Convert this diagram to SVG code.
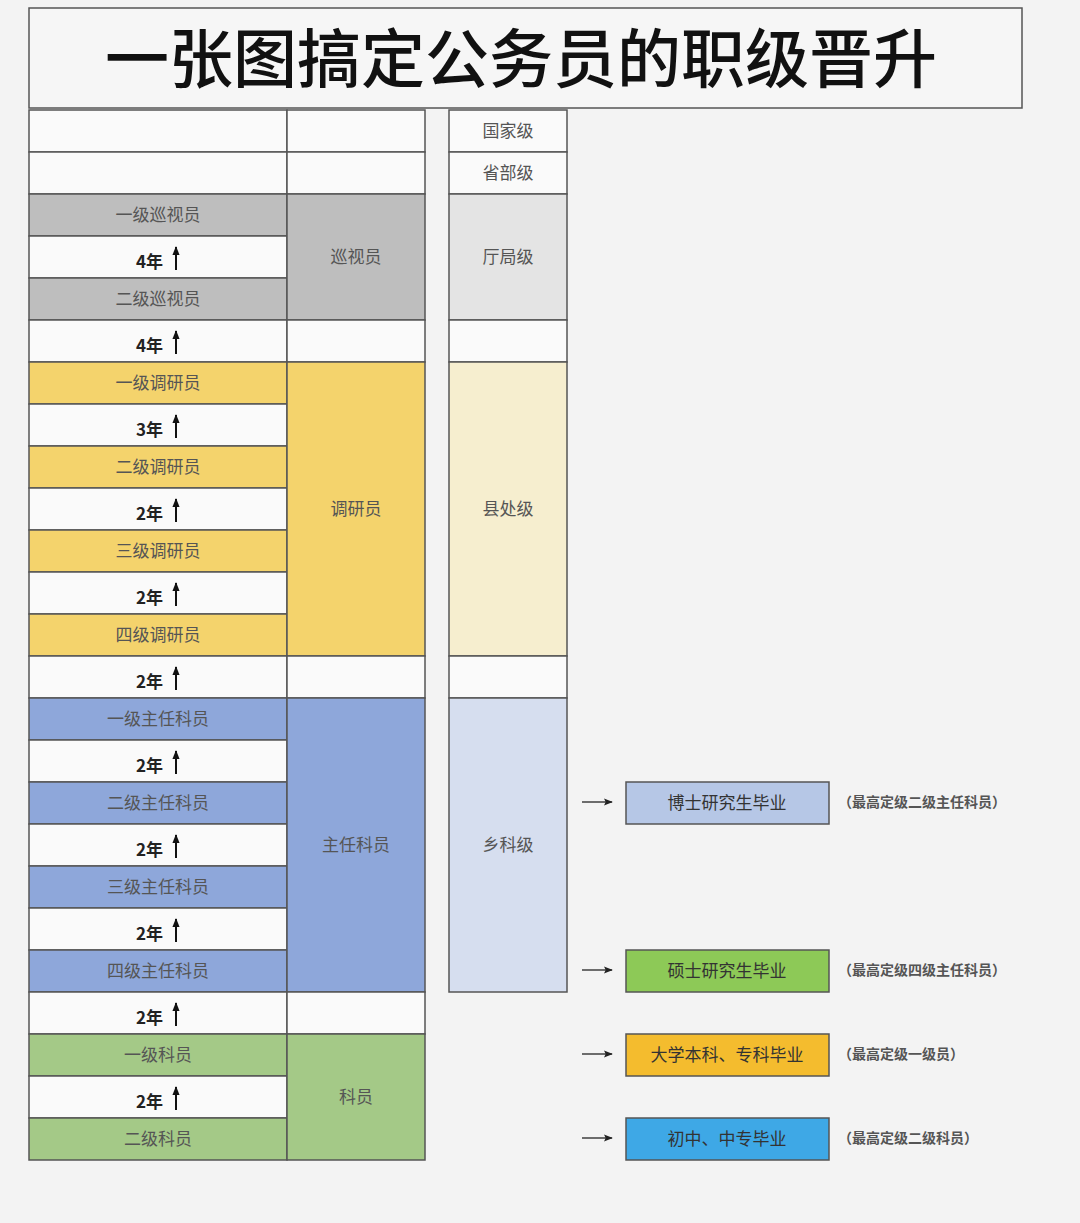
<svg xmlns="http://www.w3.org/2000/svg" width="1080" height="1223" viewBox="0 0 1080 1223">
<defs>
<marker id="ah" viewBox="0 0 10 10" refX="9" refY="5" markerWidth="9" markerHeight="9" orient="auto" markerUnits="userSpaceOnUse">
<path d="M0,1 L10,5 L0,9 L2,5 z" fill="#222"/>
</marker>
<marker id="up" viewBox="0 0 10 10" refX="9" refY="5" markerWidth="9" markerHeight="9" orient="auto" markerUnits="userSpaceOnUse">
<path d="M0,1 L10,5 L0,9 z" fill="#111"/>
</marker>
</defs>
<style>
.c{stroke:#555;stroke-width:1.5}
.w{fill:#fafafa}
.g{fill:#bebebe}
.g2{fill:#e4e4e4}
.y{fill:#f4d36c}
.y2{fill:#f6eecf}
.b{fill:#8ea7da}
.b2{fill:#d6deef}
.gr{fill:#a4c987}
.t{font-family:"Noto Sans CJK SC","Noto Sans",sans-serif;font-size:17px;fill:#555;text-anchor:middle}
.yr{font-family:"Noto Sans CJK SC","Noto Sans",sans-serif;font-size:17px;font-weight:bold;fill:#222;text-anchor:end}
.ttl{font-family:"Noto Sans CJK SC",sans-serif;font-size:64px;font-weight:500;fill:#111;text-anchor:middle}
.bt{font-family:"Noto Sans CJK SC",sans-serif;font-size:17px;fill:#333;text-anchor:middle}
.an{font-family:"Noto Sans CJK SC",sans-serif;font-size:14px;font-weight:bold;fill:#555}
.ar{stroke:#111;stroke-width:2;fill:none}
.cn{stroke:#222;stroke-width:1.3;fill:none}
</style>
<rect width="1080" height="1223" fill="#f3f3f3"/>
<g id="title">
<rect x="29" y="8" width="993" height="100" fill="#f6f6f6" class="c"/>
<text x="521" y="82" class="ttl">一张图搞定公务员的职级晋升</text>
</g>
<g id="col1">
<rect x="29" y="110" width="258" height="42" class="c w"/>
<rect x="29" y="152" width="258" height="42" class="c w"/>
<g id="n-1jxs"><rect x="29" y="194" width="258" height="42" class="c g"/><text x="158" y="221" class="t">一级巡视员</text></g>
<rect x="29" y="236" width="258" height="42" class="c w"/>
<g id="n-2jxs"><rect x="29" y="278" width="258" height="42" class="c g"/><text x="158" y="305" class="t">二级巡视员</text></g>
<rect x="29" y="320" width="258" height="42" class="c w"/>
<g id="n-1jdy"><rect x="29" y="362" width="258" height="42" class="c y"/><text x="158" y="389" class="t">一级调研员</text></g>
<rect x="29" y="404" width="258" height="42" class="c w"/>
<g id="n-2jdy"><rect x="29" y="446" width="258" height="42" class="c y"/><text x="158" y="473" class="t">二级调研员</text></g>
<rect x="29" y="488" width="258" height="42" class="c w"/>
<g id="n-3jdy"><rect x="29" y="530" width="258" height="42" class="c y"/><text x="158" y="557" class="t">三级调研员</text></g>
<rect x="29" y="572" width="258" height="42" class="c w"/>
<g id="n-4jdy"><rect x="29" y="614" width="258" height="42" class="c y"/><text x="158" y="641" class="t">四级调研员</text></g>
<rect x="29" y="656" width="258" height="42" class="c w"/>
<g id="n-1jzr"><rect x="29" y="698" width="258" height="42" class="c b"/><text x="158" y="725" class="t">一级主任科员</text></g>
<rect x="29" y="740" width="258" height="42" class="c w"/>
<g id="n-2jzr"><rect x="29" y="782" width="258" height="42" class="c b"/><text x="158" y="809" class="t">二级主任科员</text></g>
<rect x="29" y="824" width="258" height="42" class="c w"/>
<g id="n-3jzr"><rect x="29" y="866" width="258" height="42" class="c b"/><text x="158" y="893" class="t">三级主任科员</text></g>
<rect x="29" y="908" width="258" height="42" class="c w"/>
<g id="n-4jzr"><rect x="29" y="950" width="258" height="42" class="c b"/><text x="158" y="977" class="t">四级主任科员</text></g>
<rect x="29" y="992" width="258" height="42" class="c w"/>
<g id="n-1jky"><rect x="29" y="1034" width="258" height="42" class="c gr"/><text x="158" y="1061" class="t">一级科员</text></g>
<rect x="29" y="1076" width="258" height="42" class="c w"/>
<g id="n-2jky"><rect x="29" y="1118" width="258" height="42" class="c gr"/><text x="158" y="1145" class="t">二级科员</text></g>
</g>
<g id="years">
<text x="163" y="268" class="yr">4年</text>
<text x="163" y="352" class="yr">4年</text>
<text x="163" y="436" class="yr">3年</text>
<text x="163" y="520" class="yr">2年</text>
<text x="163" y="604" class="yr">2年</text>
<text x="163" y="688" class="yr">2年</text>
<text x="163" y="772" class="yr">2年</text>
<text x="163" y="856" class="yr">2年</text>
<text x="163" y="940" class="yr">2年</text>
<text x="163" y="1024" class="yr">2年</text>
<text x="163" y="1108" class="yr">2年</text>
</g>
<g id="col2">
<rect x="287" y="110" width="138" height="42" class="c w"/>
<rect x="287" y="152" width="138" height="42" class="c w"/>
<g id="n-xsy"><rect x="287" y="194" width="138" height="126" class="c g"/><text x="356" y="263" class="t">巡视员</text></g>
<rect x="287" y="320" width="138" height="42" class="c w"/>
<g id="n-dyy"><rect x="287" y="362" width="138" height="294" class="c y"/><text x="356" y="515" class="t">调研员</text></g>
<rect x="287" y="656" width="138" height="42" class="c w"/>
<g id="n-zrky"><rect x="287" y="698" width="138" height="294" class="c b"/><text x="356" y="851" class="t">主任科员</text></g>
<rect x="287" y="992" width="138" height="42" class="c w"/>
<g id="n-ky"><rect x="287" y="1034" width="138" height="126" class="c gr"/><text x="356" y="1103" class="t">科员</text></g>
</g>
<g id="col3">
<g id="n-gjj"><rect x="449" y="110" width="118" height="42" class="c w"/><text x="508" y="137" class="t">国家级</text></g>
<g id="n-sbj"><rect x="449" y="152" width="118" height="42" class="c w"/><text x="508" y="179" class="t">省部级</text></g>
<g id="n-tjj"><rect x="449" y="194" width="118" height="126" class="c g2"/><text x="508" y="263" class="t">厅局级</text></g>
<rect x="449" y="320" width="118" height="42" class="c w"/>
<g id="n-xcj"><rect x="449" y="362" width="118" height="294" class="c y2"/><text x="508" y="515" class="t">县处级</text></g>
<rect x="449" y="656" width="118" height="42" class="c w"/>
<g id="n-xkj"><rect x="449" y="698" width="118" height="294" class="c b2"/><text x="508" y="851" class="t">乡科级</text></g>
</g>
<g id="edu">
<g id="n-bs"><rect x="626" y="782" width="203" height="42" class="c" fill="#b6c7e6"/><text x="727" y="809" class="bt">博士研究生毕业</text><text x="838" y="807" class="an">（最高定级二级主任科员）</text></g>
<g id="n-ss"><rect x="626" y="950" width="203" height="42" class="c" fill="#8dc957"/><text x="727" y="977" class="bt">硕士研究生毕业</text><text x="838" y="975" class="an">（最高定级四级主任科员）</text></g>
<g id="n-dx"><rect x="626" y="1034" width="203" height="42" class="c" fill="#f4bc2e"/><text x="727" y="1061" class="bt">大学本科、专科毕业</text><text x="838" y="1059" class="an">（最高定级一级员）</text></g>
<g id="n-cz"><rect x="626" y="1118" width="203" height="42" class="c" fill="#3ea8e6"/><text x="727" y="1145" class="bt">初中、中专毕业</text><text x="838" y="1143" class="an">（最高定级二级科员）</text></g>
</g>
<g id="connectors">
<line x1="176" y1="270" x2="176" y2="247" class="ar" marker-end="url(#up)"/>
<line x1="176" y1="354" x2="176" y2="331" class="ar" marker-end="url(#up)"/>
<line x1="176" y1="438" x2="176" y2="415" class="ar" marker-end="url(#up)"/>
<line x1="176" y1="522" x2="176" y2="499" class="ar" marker-end="url(#up)"/>
<line x1="176" y1="606" x2="176" y2="583" class="ar" marker-end="url(#up)"/>
<line x1="176" y1="690" x2="176" y2="667" class="ar" marker-end="url(#up)"/>
<line x1="176" y1="774" x2="176" y2="751" class="ar" marker-end="url(#up)"/>
<line x1="176" y1="858" x2="176" y2="835" class="ar" marker-end="url(#up)"/>
<line x1="176" y1="942" x2="176" y2="919" class="ar" marker-end="url(#up)"/>
<line x1="176" y1="1026" x2="176" y2="1003" class="ar" marker-end="url(#up)"/>
<line x1="176" y1="1110" x2="176" y2="1087" class="ar" marker-end="url(#up)"/>
<line x1="582" y1="802" x2="612" y2="802" class="cn" marker-end="url(#ah)"/>
<line x1="582" y1="970" x2="612" y2="970" class="cn" marker-end="url(#ah)"/>
<line x1="582" y1="1054" x2="612" y2="1054" class="cn" marker-end="url(#ah)"/>
<line x1="582" y1="1138" x2="612" y2="1138" class="cn" marker-end="url(#ah)"/>
</g>
</svg>
